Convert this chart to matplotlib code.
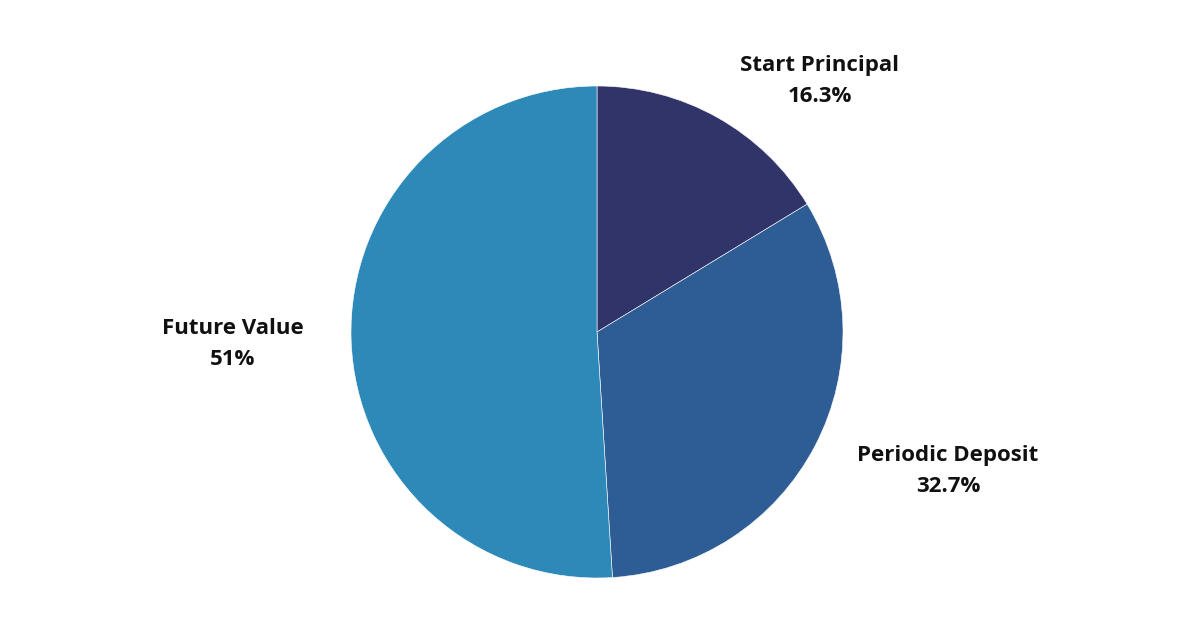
import matplotlib.pyplot as plt

labels = ['Start Principal', 'Periodic Deposit', 'Future Value']
values = [16.3, 32.7, 51]
pct_labels = ['16.3%', '32.7%', '51%']
colors = ['#313469', '#2e5d95', '#2d89b8']

W, H = 1200, 628
fig = plt.figure(figsize=(W / 100, H / 100), dpi=100)
ax = fig.add_axes([0, 0, 1, 1])

ax.pie(values, colors=colors, startangle=90, counterclock=False,
       center=(597, H - 332), radius=246,
       wedgeprops=dict(edgecolor='white', linewidth=0.4))

# label positions (pixels from top-left)
label_pos = [(820, 81), (948, 471), (233, 344)]
for name, pct, (x, y) in zip(labels, pct_labels, label_pos):
    ax.text(x, H - y, f'{name}\n{pct}', ha='center', va='center',
            fontsize=16, fontweight='bold', family='Open Sans',
            color='#111111', linespacing=1.65)

ax.set_xlim(0, W)
ax.set_ylim(0, H)
ax.set_aspect('equal')
ax.axis('off')

fig.savefig('out.png', dpi=100, facecolor='white')
